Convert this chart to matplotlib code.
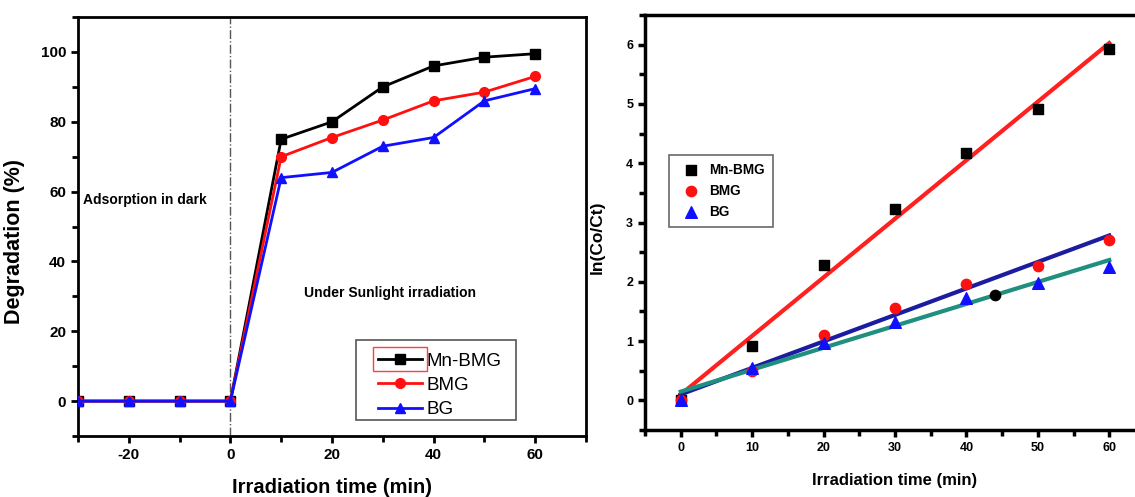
import matplotlib
matplotlib.use("Agg")
import matplotlib.pyplot as plt
from matplotlib.ticker import MultipleLocator, FixedLocator
from matplotlib.patches import Rectangle
import numpy as np

plt.rcParams['font.family'] = ['Liberation Sans', 'DejaVu Sans']
plt.rcParams['axes.unicode_minus'] = False

# left panel: degradation (%) vs irradiation time
time_deg = [-30, -20, -10, 0, 10, 20, 30, 40, 50, 60]
deg_mnbmg = [0, 0, 0, 0, 75, 80, 90, 96, 98.5, 99.5]
deg_bmg = [0, 0, 0, 0, 70, 75.5, 80.5, 86, 88.5, 93]
deg_bg = [0, 0, 0, 0, 64, 65.5, 73, 75.5, 86, 89.5]

# right panel: ln(Co/Ct) vs irradiation time
time_kin = [0, 10, 20, 30, 40, 50, 60]
ln_mnbmg = [0, 0.92, 2.28, 3.22, 4.18, 4.92, 5.92]
ln_bmg = [0, 0.5, 1.1, 1.55, 1.97, 2.27, 2.7]
ln_bg = [0, 0.55, 0.97, 1.33, 1.72, 1.98, 2.25]
stray_x = [44]
stray_y = [1.78]


def style_axes(ax, lw=2.0):
	for s in ax.spines.values():
		s.set_linewidth(lw)
	ax.tick_params(which='both', direction='out', top=False, right=False, width=lw)
	ax.tick_params(which='major', length=5)
	ax.tick_params(which='minor', length=4)


fig = plt.figure(figsize=[11.35, 4.97], dpi=100)

# ---------- left panel ----------
ax1 = fig.add_axes([0.0687, 0.1227, 0.4476, 0.843])
ax1.plot(time_deg, deg_mnbmg, color='black', lw=2, marker='s', ms=7, label='Mn-BMG', zorder=3)
ax1.plot(time_deg, deg_bmg, color='#ff1010', lw=2, marker='o', ms=7, label='BMG', zorder=3)
ax1.plot(time_deg, deg_bg, color='#1010ff', lw=2, marker='^', ms=7, label='BG', zorder=3)
ax1.axvline(0, color='#555555', lw=1, ls='-.', zorder=1)
ax1.set_xlim(-30, 70)
ax1.set_ylim(-10, 110)
ax1.xaxis.set_major_locator(MultipleLocator(20))
ax1.xaxis.set_minor_locator(MultipleLocator(10))
ax1.yaxis.set_major_locator(MultipleLocator(20))
ax1.yaxis.set_minor_locator(MultipleLocator(10))
style_axes(ax1)
for lab in ax1.get_xticklabels() + ax1.get_yticklabels():
	lab.set_fontweight('bold')
	lab.set_fontsize(11)
ax1.set_xlabel('Irradiation time (min)', fontsize=14.5, fontweight='bold', labelpad=12)
ax1.set_ylabel('Degradation (%)', fontsize=15.5, fontweight='bold')
ax1.yaxis.set_label_coords(-0.105, 0.465)
ax1.text(-29, 57.5, 'Adsorption in dark', fontsize=10, fontweight='bold', va='center')
ax1.text(14.5, 31, 'Under Sunlight irradiation', fontsize=10, fontweight='bold', va='center')
# legend frame drawn separately so its size matches the original
ax1.add_patch(Rectangle((0.547, 0.038), 0.315, 0.191, transform=ax1.transAxes,
	fill=False, edgecolor='#555555', lw=1.2, zorder=4))
leg1 = ax1.legend(loc='upper left', bbox_to_anchor=(0.591, 0.199),
	fontsize=13.5, frameon=False, borderaxespad=0, borderpad=0,
	handlelength=2.35, handletextpad=0.25, labelspacing=0.38)

# ---------- right panel ----------
ax2 = fig.add_axes([0.5683, 0.1348, 0.4405, 0.835])
for y, col in [(ln_mnbmg, '#ff2020'), (ln_bmg, '#1c1ca0'), (ln_bg, '#1f8f80')]:
	k, b = np.polyfit(time_kin, y, 1)
	xs = np.array([time_kin[0], time_kin[-1]])
	ax2.plot(xs, k * xs + b, color=col, lw=3, zorder=2)
ax2.scatter(time_kin, ln_mnbmg, marker='s', s=50, color='black', label='Mn-BMG', zorder=3)
ax2.scatter(time_kin, ln_bmg, marker='o', s=55, color='#ff1010', label='BMG', zorder=3)
ax2.scatter(time_kin, ln_bg, marker='^', s=70, color='#1010ff', label='BG', zorder=3)
ax2.scatter(stray_x, stray_y, marker='o', s=55, color='black', zorder=3)
ax2.set_xlim(-5, 65)
ax2.set_ylim(-0.5, 6.5)
ax2.xaxis.set_major_locator(FixedLocator(time_kin))
ax2.xaxis.set_minor_locator(MultipleLocator(5))
ax2.yaxis.set_major_locator(MultipleLocator(1))
ax2.yaxis.set_minor_locator(MultipleLocator(0.5))
style_axes(ax2, lw=2.5)
for lab in ax2.get_xticklabels() + ax2.get_yticklabels():
	lab.set_fontweight('bold')
	lab.set_fontsize(9)
ax2.set_xlabel('Irradiation time (min)', fontsize=12, fontweight='bold', labelpad=14)
ax2.set_ylabel('ln(Co/Ct)', fontsize=12.5, fontweight='bold')
ax2.yaxis.set_label_coords(-0.08, 0.465)
leg2 = ax2.legend(loc='upper left', bbox_to_anchor=(0.048, 0.663),
	prop={'weight': 'bold', 'size': 9.8}, frameon=True, fancybox=False, edgecolor='#444444',
	borderaxespad=0, handletextpad=0.35, labelspacing=0.5, borderpad=0.6)
leg2.get_frame().set_linewidth(1.2)

# red selection box around the first legend handle (as in the original)
fig.canvas.draw()
h = leg1.legend_handles[0]
bb = h.get_window_extent(fig.canvas.get_renderer()).transformed(fig.transFigure.inverted())
pad_h = 12 / 497
fig.add_artist(Rectangle((bb.x0, bb.y0 + bb.height / 2 - pad_h), bb.width, 2 * pad_h,
	transform=fig.transFigure, fill=False, edgecolor='#ff4040', lw=1))

fig.savefig('out.png', dpi=100)
